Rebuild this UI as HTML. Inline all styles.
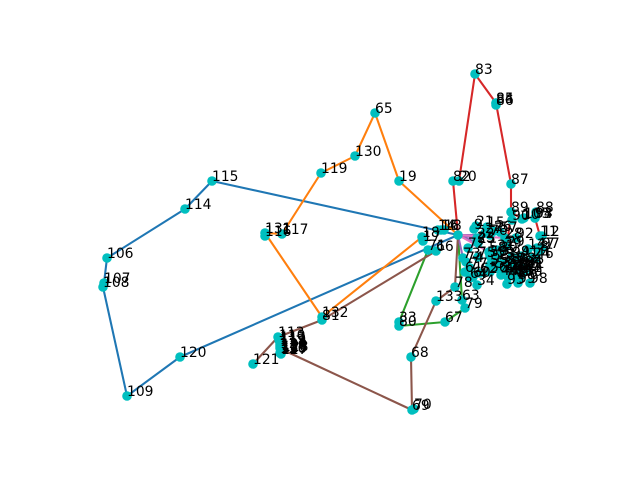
<!DOCTYPE html>
<html>
<head>
<meta charset="utf-8">
<title>Network graph</title>
<style>
html,body{margin:0;padding:0;background:#fff;width:640px;height:480px;overflow:hidden}
svg{display:block}
text{font-family:"DejaVu Sans","Liberation Sans",sans-serif;font-size:13.89px;fill:#000}
</style>
</head>
<body>
<svg id="chart" width="640" height="480" viewBox="0 0 640 480" xmlns="http://www.w3.org/2000/svg">
<rect width="640" height="480" fill="#fff"></rect>
</svg>
<script>
// Node data, in layout units
var nodeLabels = ["","115","114","106","107","108","109","120","65","130","119","117","116","131","132","81","19","18","17","71","66","16","14","18b","13",
"82","20","83","84","85","86","87","89","90","10","105","88","94","93x",
"21","9","15","26","57","76","28","92","22","23","25","27","29","31","39","72","58","30","50","94b","91","24","46","11","12","97","47","8",
"34","74","77","73","75","61","62","60","64","55","56","52","51","53","59",
"32","33","35","36","37","38","40","41","42","43","45","48","49","95","96","100","101","102","103","104","44","93","99","98",
"78","133","63","79","67","68","69","70","33b","80",
"113","110","111","112","118","123","124","125","126","127","128","129","121"];
var nodeX = [378,132,105,27,24,23,47,100,295,275,241,202,185,185,242,242,319,342,343,348,356,361,358,364,448,
373,379,395,416,416,416,431,431,432,442,444,456,455,455,
396,394,407,414,420,410,425,436,397,397,398,405,427,417,424,388,409,420,410,432,441,453,456,460,462,462,457,460,
397,386,390,383,398,385,400,393,390,410,410,416,420,412,417,
423,426,429,432,435,438,441,444,447,425,428,431,434,437,440,436,424,430,436,436,421,427,438,450,
375,356,382,385,365,331,332,334,319,319,
198,199,200,200,200,200,201,201,200,201,202,201,173];
var nodeY = [192,246,218,169,144,140,31,70,314,271,254,193,191,194,110,107,246,190,186,177,176,197,197,197,178,
246,246,353,324,324,322,243,215,207,208,209,215,209,209,
201,198,200,196,195,192,189,189,189,185,184,194,181,177,179,179,175,175,171,170,171,169,169,191,191,179,179,176,
142,165,159,169,170,155,154,150,149,162,155,159,163,167,170,
160,164,158,163,157,164,159,155,159,153,150,154,151,152,150,151,157,157,157,161,152,143,144,144,
140,126,127,119,105,70,17,18,105,101,
90,87,85,83,81,79,77,75,74,73,76,78,63];
// Edge paths, listed by node label
var pathBlue = ["115","114","106","107","108","109","120",""];
var pathBlue2 = ["115",""];
var pathOrange = ["","19","65","130","119","117","131","132","18"];
var pathGreen = ["71","33b","80","67","79","63",""];
var pathRed = ["","82","20","83","85","87","89","10"];
var pathRed2 = ["94","11"];
var pathRed3 = ["89","29"];
var pathPurple = ["","22","23","72","25",""];
var pathPurple2 = ["","73"];
var pathPurple3 = ["","76"];
var pathBrown = ["121","113","81","66"];
var pathBrown2 = ["129","69","68"];
var pathBrown3 = ["68","133","78",""];
var pathPink = ["","58","30"];
var pathPink2 = ["","28"];

// Axis functions
var xDomain = [0,496], xRange = [80,576];
var yDomain = [0,369], yRange = [427,58];
function sx(v){return xRange[0]+(v-xDomain[0])/(xDomain[1]-xDomain[0])*(xRange[1]-xRange[0]);}
function sy(v){return yRange[0]+(v-yDomain[0])/(yDomain[1]-yDomain[0])*(yRange[1]-yRange[0]);}

var NS = "http://www.w3.org/2000/svg";
var svg = document.getElementById("chart");
function idx(lbl){return nodeLabels.indexOf(lbl);}
function drawPath(arr,color,name){
  var pts = [];
  for(var i=0;i<arr.length;i++){
    var k = idx(arr[i]);
    if(k>=0){pts.push(sx(nodeX[k]).toFixed(1)+","+sy(nodeY[k]).toFixed(1));}
  }
  var el = document.createElementNS(NS,"polyline");
  el.setAttribute("points",pts.join(" "));
  el.setAttribute("fill","none");
  el.setAttribute("stroke",color);
  el.setAttribute("stroke-width","2.08");
  el.setAttribute("stroke-linejoin","round");
  
  
  svg.appendChild(el);
}
drawPath(pathBlue,"#1f77b4","edge-path-blue");
drawPath(pathBlue2,"#1f77b4","edge-path-blue-hub");
drawPath(pathOrange,"#ff7f0e","edge-path-orange");
drawPath(pathGreen,"#2ca02c","edge-path-green");
drawPath(pathRed,"#d62728","edge-path-red");
drawPath(pathRed2,"#d62728","edge-path-red-right");
drawPath(pathRed3,"#d62728","edge-path-red-inner");
drawPath(pathPurple,"#9467bd","edge-path-purple");
drawPath(pathPurple2,"#9467bd","edge-path-purple-lower");
drawPath(pathPurple3,"#9467bd","edge-path-purple-upper");
drawPath(pathBrown,"#8c564b","edge-path-brown");
drawPath(pathBrown2,"#8c564b","edge-path-brown-lower");
drawPath(pathBrown3,"#8c564b","edge-path-brown-hub");
drawPath(pathPink,"#e377c2","edge-path-pink");
drawPath(pathPink2,"#e377c2","edge-path-pink-upper");

for(var i=0;i<nodeLabels.length;i++){
  var c = document.createElementNS(NS,"circle");
  c.setAttribute("cx",sx(nodeX[i]).toFixed(1));
  c.setAttribute("cy",sy(nodeY[i]).toFixed(1));
  c.setAttribute("r","4.8");
  c.setAttribute("fill","#00bfbf");
  
  
  svg.appendChild(c);
}
for(var j=0;j<nodeLabels.length;j++){
  var txt = nodeLabels[j].replace(/[a-z]+$/,"");
  if(!txt){continue;}
  var t = document.createElementNS(NS,"text");
  t.setAttribute("x",sx(nodeX[j]).toFixed(1));
  t.setAttribute("y",sy(nodeY[j]).toFixed(1));
  t.textContent = txt;
  
  
  svg.appendChild(t);
}
</script>
</body>
</html>
